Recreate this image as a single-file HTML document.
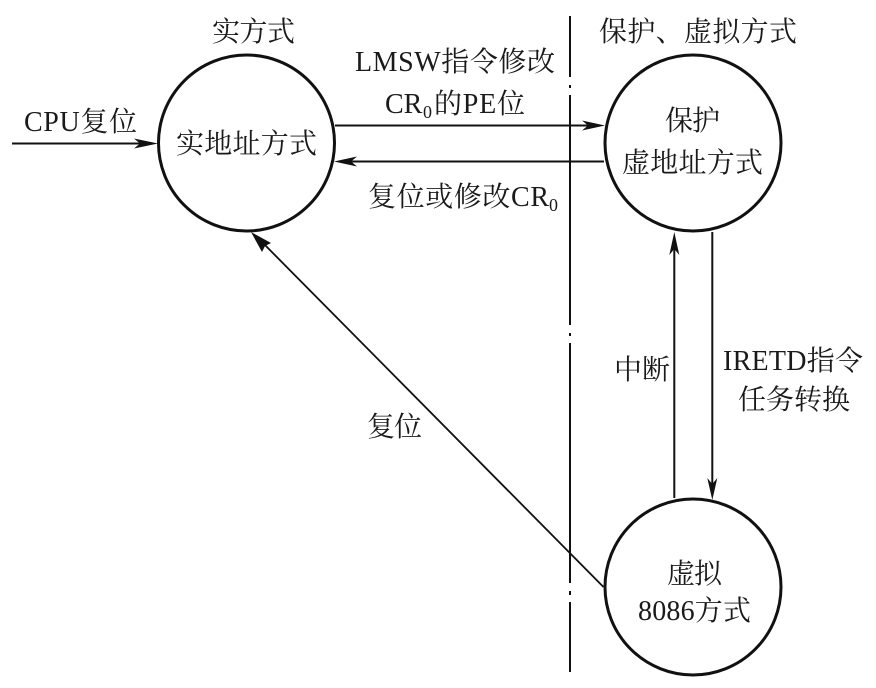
<!DOCTYPE html>
<html><head><meta charset="utf-8">
<style>html,body{margin:0;padding:0;background:#fff}svg{display:block}
text{font-family:"Liberation Serif","Noto Serif CJK SC",serif;font-size:28px;fill:#1a1a1a}
text.s{font-size:18px}
</style></head><body>
<svg width="876" height="688" viewBox="0 0 876 688" xmlns="http://www.w3.org/2000/svg">
<g fill="none" stroke="#111">
<circle cx="246.5" cy="143" r="88" stroke-width="3"/>
<circle cx="693" cy="143" r="88" stroke-width="3"/>
<circle cx="693" cy="587" r="88" stroke-width="3"/>
<g stroke-width="2">
<path d="M570 16V77M570 85V88M570 95V325M570 333V336M570 343V583M570 591V595M570 602V672"/>
<path d="M12 143.5H145M335 125.5H594M604 161.5H346M674.3 498V245M712.3 232V490"/>
<path d="M603.5 587L258 238" stroke-width="1.8"/>
</g></g>
<g fill="#111">
<path d="M158 143.5L134 138.5L140 143.5L134 148.5Z"/>
<path d="M605 125.5L582 120.5L588 125.5L582 130.5Z"/>
<path d="M334 161.5L357 156.5L351 161.5L357 166.5Z"/>
<path d="M674.3 232L669.3 255L674.3 249L679.3 255Z"/>
<path d="M712.3 500L707.3 478L712.3 484L717.3 478Z"/>
<path d="M251 232L262 252L265 246L271 243Z"/>
</g>
<text x="212" y="41" textLength="83">实方式</text>
<text x="599" y="41" textLength="198">保护、虚拟方式</text>
<text x="355" y="71" textLength="200">LMSW指令修改</text>
<text x="385" y="113">CR</text>
<text x="423" y="118" class="s">0</text>
<text x="434" y="113" textLength="91">的PE位</text>
<text x="24" y="131" textLength="113">CPU复位</text>
<text x="176" y="153" textLength="141">实地址方式</text>
<text x="665" y="130" textLength="55">保护</text>
<text x="622" y="172" textLength="141">虚地址方式</text>
<text x="368" y="206" textLength="181">复位或修改CR</text>
<text x="549" y="211" class="s">0</text>
<text x="614" y="379">中断</text>
<text x="723" y="370" textLength="140">IRETD指令</text>
<text x="738" y="409" textLength="112">任务转换</text>
<text x="367" y="436" textLength="55">复位</text>
<text x="667" y="583" textLength="55">虚拟</text>
<text x="638" y="620" textLength="113">8086方式</text>
</svg>
</body></html>
